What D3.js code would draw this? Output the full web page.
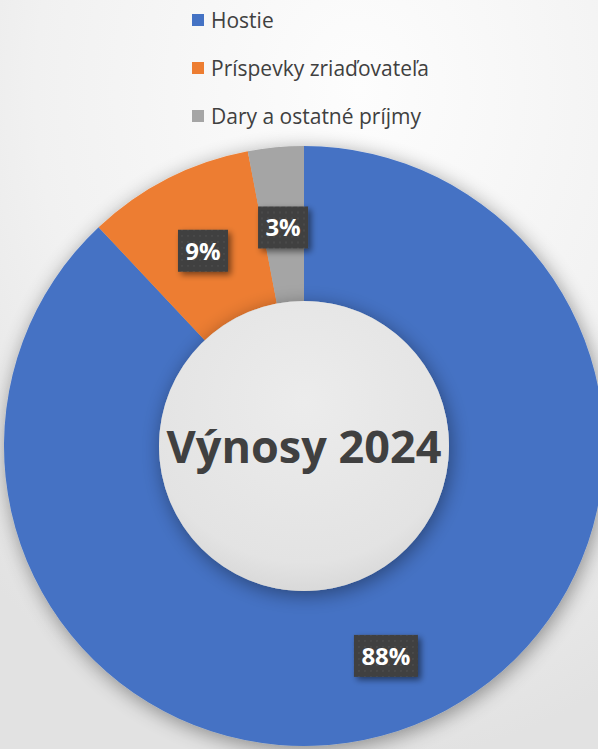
<!DOCTYPE html>
<html>
<head>
<meta charset="utf-8">
<script src="https://cdn.jsdelivr.net/npm/d3@7"></script>
<style>
  html, body { margin: 0; padding: 0; background: #f2f2f2; }
  svg { display: block; font-family: "Open Sans", "Noto Sans", sans-serif; }
</style>
</head>
<body>
<div id="chart"></div>
<script>
const categories = ["Hostie", "Príspevky zriaďovateľa", "Dary a ostatné príjmy"];
const values = [88, 9, 3];
const labels = ["88%", "9%", "3%"];
const colors = ["#4472C4", "#ED7D31", "#A5A5A5"];
const title = "Výnosy 2024";

const width = 598;
const height = 749;
const cx = 304;
const cy = 446;
const outerR = 300;
const innerR = 145;

const svg = d3.select("#chart")
  .append("svg")
  .attr("width", width)
  .attr("height", height);

const defs = svg.append("defs");

// background gradient, bright near the top right
const bg = defs.append("radialGradient")
  .attr("id", "bgGrad")
  .attr("cx", "0.6").attr("cy", "0.12").attr("r", "0.9");
bg.append("stop").attr("offset", "0").attr("stop-color", "#fdfdfd");
bg.append("stop").attr("offset", "0.6").attr("stop-color", "#f1f1f1");
bg.append("stop").attr("offset", "1").attr("stop-color", "#e2e2e2");

const hole = defs.append("radialGradient")
  .attr("id", "holeGrad")
  .attr("cx", "0.5").attr("cy", "0.35").attr("r", "0.65");
hole.append("stop").attr("offset", "0").attr("stop-color", "#ececec");
hole.append("stop").attr("offset", "0.85").attr("stop-color", "#e3e3e3");
hole.append("stop").attr("offset", "1").attr("stop-color", "#d9d9d9");

const shadow = defs.append("filter")
  .attr("id", "ringShadow")
  .attr("x", "-20%").attr("y", "-20%").attr("width", "140%").attr("height", "140%");
shadow.append("feGaussianBlur").attr("in", "SourceAlpha").attr("stdDeviation", 10);
shadow.append("feOffset").attr("dx", 2).attr("dy", 4).attr("result", "b");
shadow.append("feComponentTransfer").append("feFuncA").attr("type", "linear").attr("slope", 0.4);
const m1 = shadow.append("feMerge");
m1.append("feMergeNode");
m1.append("feMergeNode").attr("in", "SourceGraphic");

const boxShadow = defs.append("filter")
  .attr("id", "boxShadow")
  .attr("x", "-30%").attr("y", "-30%").attr("width", "160%").attr("height", "160%");
boxShadow.append("feGaussianBlur").attr("in", "SourceAlpha").attr("stdDeviation", 3);
boxShadow.append("feOffset").attr("dx", 3).attr("dy", 3).attr("result", "b");
boxShadow.append("feComponentTransfer").append("feFuncA").attr("type", "linear").attr("slope", 0.5);
const m2 = boxShadow.append("feMerge");
m2.append("feMergeNode");
m2.append("feMergeNode").attr("in", "SourceGraphic");

const dots = defs.append("pattern")
  .attr("id", "dots")
  .attr("width", 6).attr("height", 6)
  .attr("patternUnits", "userSpaceOnUse");
dots.append("rect").attr("width", 6).attr("height", 6).attr("fill", "#3f3f3f");
dots.append("circle").attr("cx", 3).attr("cy", 3).attr("r", 0.8).attr("fill", "#555555");

svg.append("rect")
  .attr("width", width)
  .attr("height", height)
  .attr("fill", "url(#bgGrad)");

// legend
const legend = svg.append("g").attr("transform", "translate(192, 0)");
const rows = legend.selectAll("g")
  .data(categories)
  .enter()
  .append("g")
  .attr("transform", (d, i) => `translate(0, ${20 + i * 48})`);
rows.append("rect")
  .attr("x", 0).attr("y", -6)
  .attr("width", 12).attr("height", 12)
  .attr("fill", (d, i) => colors[i]);
rows.append("text")
  .attr("x", 19)
  .attr("y", 8)
  .attr("font-size", 21)
  .attr("fill", "#404040")
  .text(d => d);

// donut
const pie = d3.pie().sort(null).value(d => d);
const arcs = pie(values);
const arc = d3.arc().innerRadius(innerR).outerRadius(outerR);
const labelArc = d3.arc().innerRadius((innerR + outerR) / 2).outerRadius((innerR + outerR) / 2);

const g = svg.append("g").attr("transform", `translate(${cx},${cy})`);

g.append("g")
  .attr("filter", "url(#ringShadow)")
  .selectAll("path")
  .data(arcs)
  .enter()
  .append("path")
  .attr("d", arc)
  .attr("fill", (d, i) => colors[i]);

g.append("circle")
  .attr("r", innerR)
  .attr("fill", "url(#holeGrad)")
  .attr("filter", "url(#ringShadow)");

g.append("text")
  .attr("y", 17)
  .attr("text-anchor", "middle")
  .attr("font-size", 45)
  .attr("font-weight", "bold")
  .attr("fill", "#404040")
  .text(title);

// data labels
const lab = g.selectAll(".lab")
  .data(arcs)
  .enter()
  .append("g")
  .attr("class", "lab")
  .attr("transform", d => {
    const [x, y] = labelArc.centroid(d);
    return `translate(${x},${y + 3})`;
  });
lab.append("rect")
  .attr("x", (d, i) => -(labels[i].length * 14 + 22) / 2)
  .attr("y", -21)
  .attr("width", (d, i) => labels[i].length * 14 + 22)
  .attr("height", 42)
  .attr("fill", "url(#dots)")
  .attr("filter", "url(#boxShadow)");
lab.append("text")
  .attr("y", 9)
  .attr("text-anchor", "middle")
  .attr("font-size", 24)
  .attr("font-weight", "bold")
  .attr("fill", "#ffffff")
  .text((d, i) => labels[i]);
</script>
</body>
</html>
